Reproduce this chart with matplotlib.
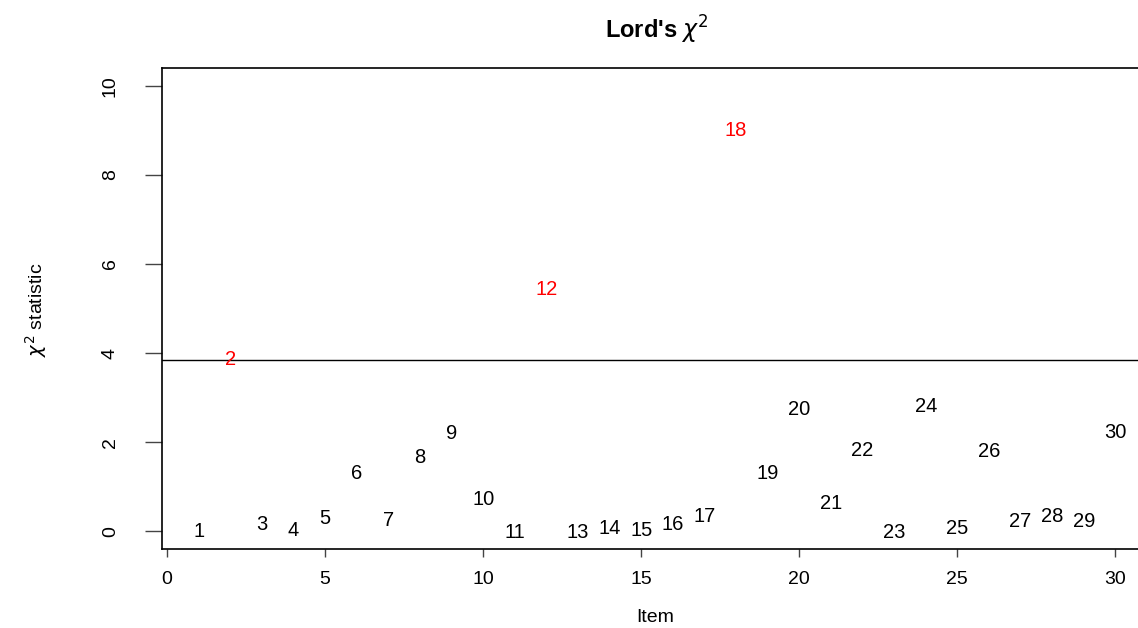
import matplotlib
matplotlib.use("Agg")
import matplotlib.pyplot as plt

plt.rcParams["font.family"] = ["Liberation Sans", "DejaVu Sans"]

# Lord's chi-square statistic per item
items = list(range(1, 31))
chi2 = [0.00, 3.86, 0.16, 0.02, 0.29, 1.30, 0.25, 1.66, 2.20, 0.72,
        -0.04, 5.42, -0.04, 0.07, 0.02, 0.16, 0.34, 8.99, 1.30, 2.74,
        0.63, 1.82, -0.04, 2.79, 0.07, 1.78, 0.22, 0.34, 0.22, 2.22]
threshold = 3.84
dif_items = [2, 12, 18]

fig = plt.figure(figsize=(11.38, 6.28), dpi=100)
ax = fig.add_axes([0.1424, 0.1258, 0.8699, 0.7659])

for it, val in zip(items, chi2):
    color = "#ff0000" if it in dif_items else "black"
    ax.text(it, val, str(it), color=color, fontsize=14.5,
            ha="center", va="center")

ax.axhline(threshold, color="black", lw=1)

ax.set_xlim(-0.16, 31.16)
ax.set_ylim(-0.4, 10.4)
ax.set_xticks([0, 5, 10, 15, 20, 25, 30])
ax.set_yticks([0, 2, 4, 6, 8, 10])
ax.tick_params(axis="x", length=6, width=1, labelsize=14, pad=10,
               color="#444444")
ax.tick_params(axis="y", length=12, width=1, labelsize=14, pad=19,
               color="#444444")
plt.setp(ax.get_yticklabels(), rotation=90, va="center")
for s in ax.spines.values():
    s.set_linewidth(1.2)

ax.set_title(r"Lord's $\chi^2$", fontsize=17, fontweight="bold", pad=21)
ax.set_xlabel("Item", fontsize=14)
ax.set_ylabel(r"$\chi^2$ statistic", fontsize=14)
ax.xaxis.set_label_coords(0.498, -0.125)
ax.yaxis.set_label_coords(-0.114, 0.497)

fig.savefig("out.png", dpi=100)
